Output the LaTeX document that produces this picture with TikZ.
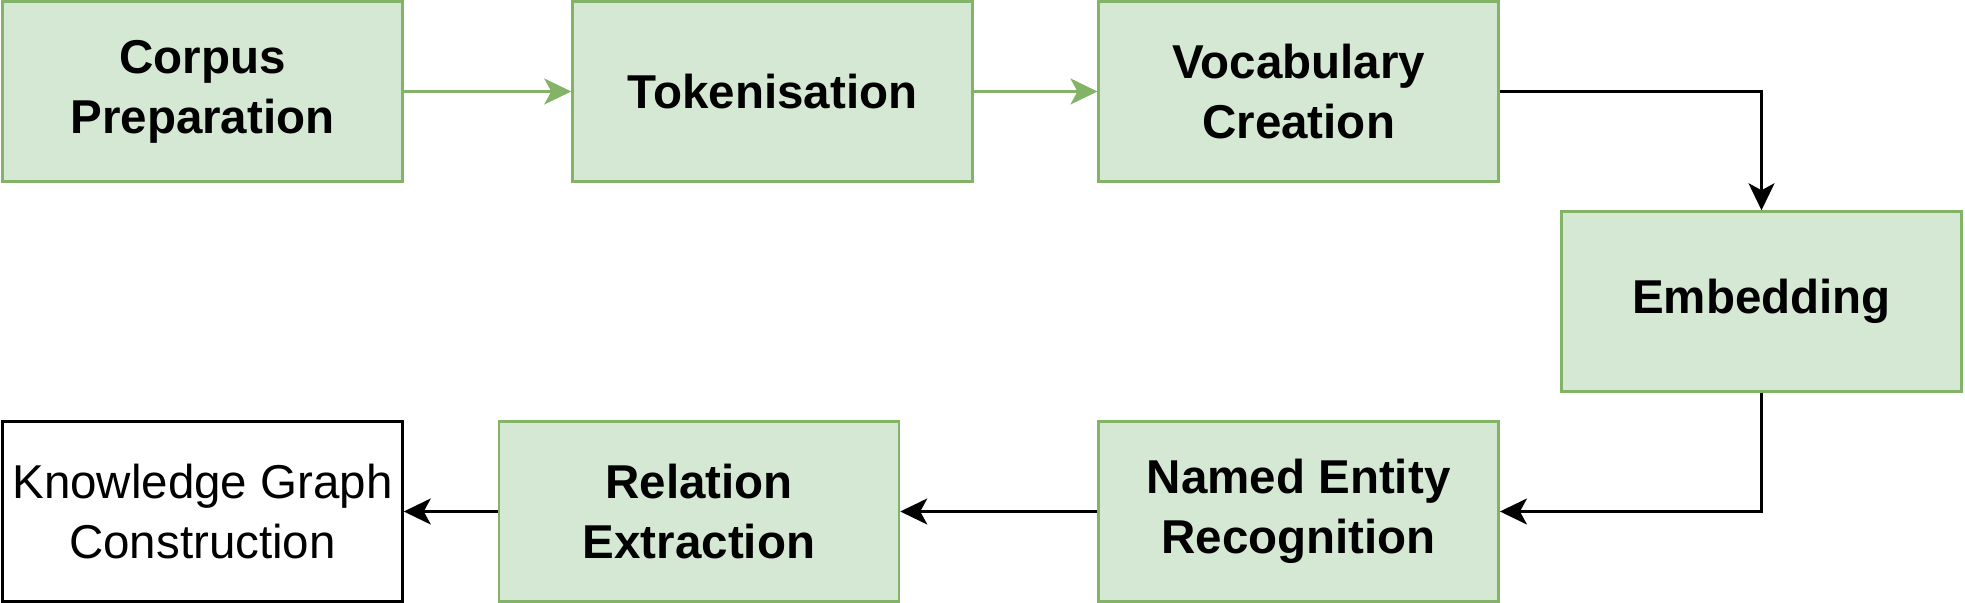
\documentclass[tikz,border=0pt]{standalone}
\usepackage{fontspec}
\setmainfont{Liberation Sans}
\usetikzlibrary{arrows.meta}
\definecolor{boxgreen}{HTML}{82B366}
\definecolor{boxfill}{HTML}{D5E8D4}
\begin{document}
\begin{tikzpicture}[x=0.5pt,y=-0.5pt,
  stage/.style={draw=boxgreen, fill=boxfill, line width=1.25pt,
    minimum width=200pt, minimum height=90pt, inner sep=0pt, align=center,
    font=\fontsize{23.75pt}{30pt}\selectfont\bfseries},
  plainbox/.style={draw=black, fill=white, line width=1.25pt,
    minimum width=200pt, minimum height=90pt, inner sep=0pt, align=center,
    font=\fontsize{23.75pt}{30pt}\selectfont},
  greenlink/.style={draw=boxgreen, line width=1.25pt,
    -{Stealth[length=13.5pt, width=13pt, inset=3.5pt]}},
  blacklink/.style={draw=black, line width=1.25pt,
    -{Stealth[length=13.5pt, width=13pt, inset=3.5pt]}}
]
\fill[white] (0,0) rectangle (1965,603);
\useasboundingbox (0,0) rectangle (1965,603);

\node[stage] (corpus) at (202.5,91.5) {Corpus\\Preparation};
\node[stage] (tok) at (772.5,91.5) {Tokenisation};
\node[stage] (vocab) at (1298.7,91.5) {Vocabulary\\Creation};
\node[stage] (emb) at (1761.5,301.5) {Embedding};
\node[stage] (ner) at (1298.7,511.5) {Named Entity\\Recognition};
\node[stage] (rel) at (699,511.5) {Relation\\Extraction};
\node[plainbox] (kg) at (202.5,511.5) {Knowledge Graph\\Construction};

\draw[greenlink] (corpus) -- (tok);
\draw[greenlink] (tok) -- (vocab);
\draw[blacklink] (vocab.east) -| (emb.north);
\draw[blacklink] (emb.south) |- (ner.east);
\draw[blacklink] (ner) -- (rel);
\draw[blacklink] (rel) -- (kg);
\end{tikzpicture}
\end{document}
